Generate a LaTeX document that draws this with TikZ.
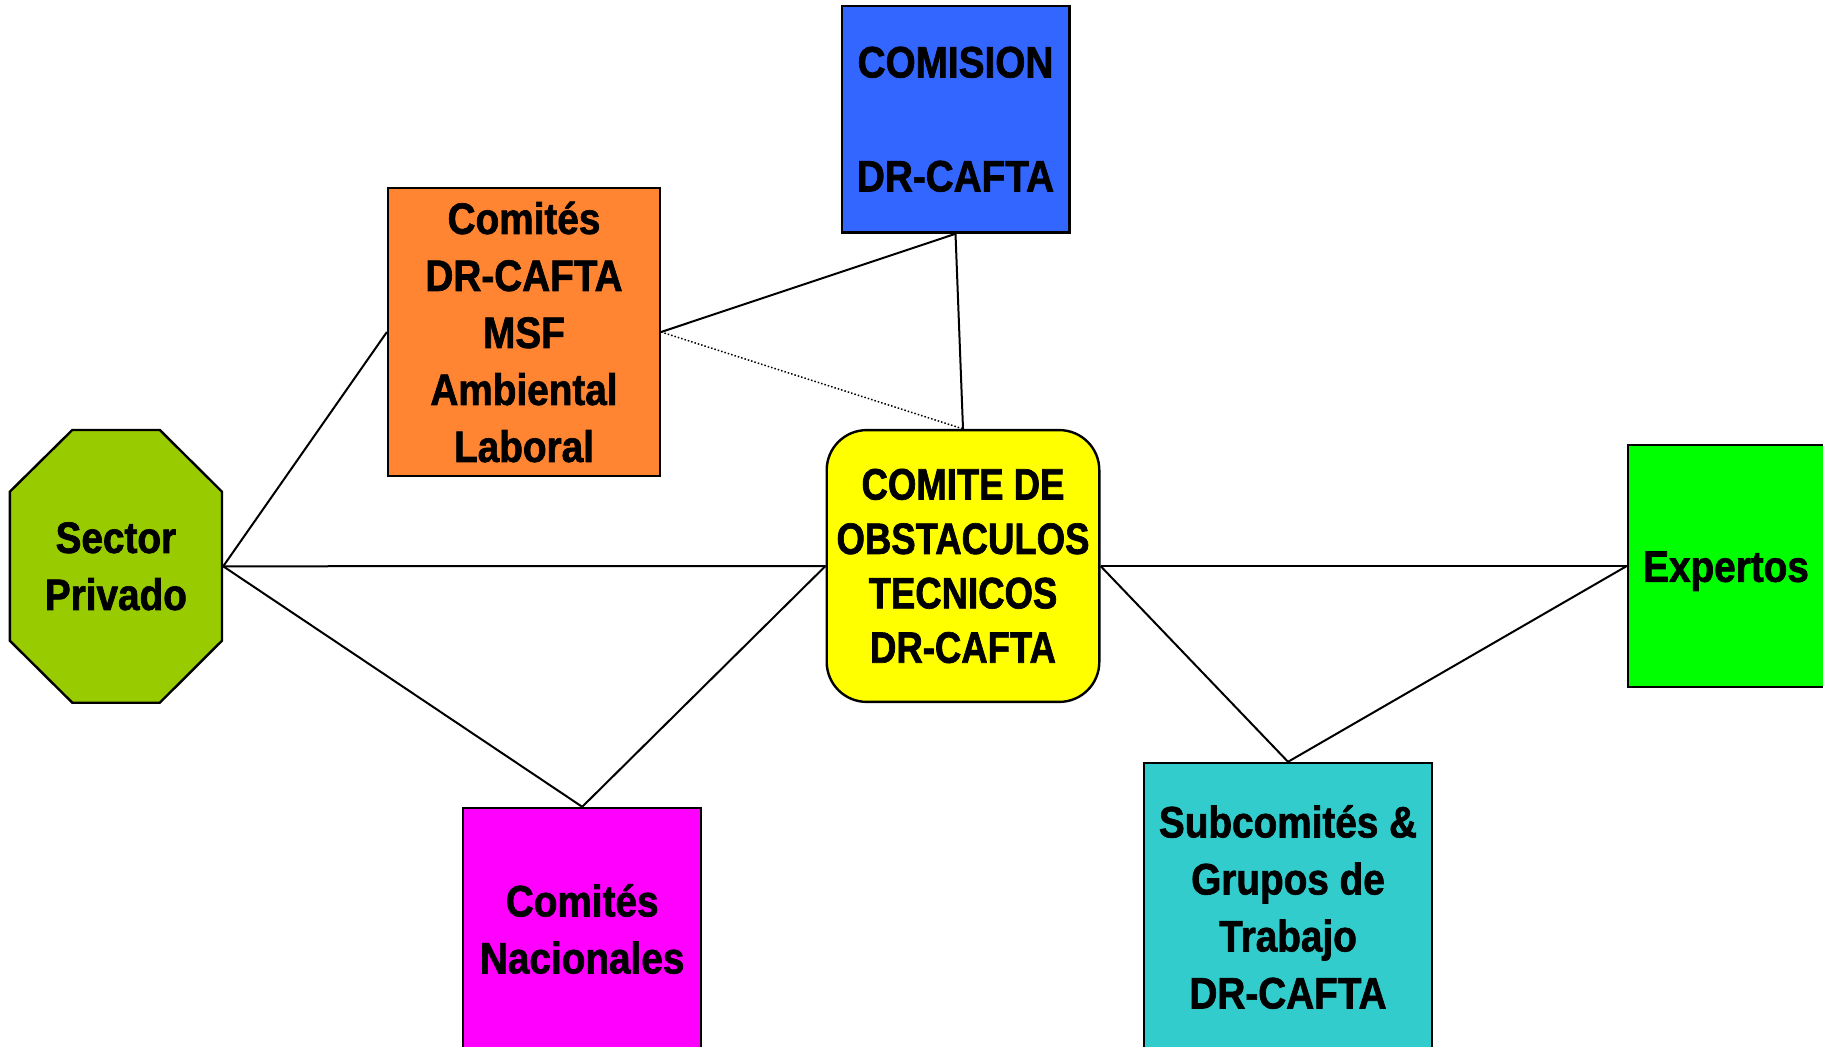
\documentclass[tikz,border=0pt]{standalone}
\usepackage{fontspec}
\newfontfamily\boxfont{Liberation Sans Bold}[FakeStretch=0.88, FakeBold=1.5]
\newfontfamily\narrowfont{Liberation Sans Bold}[FakeStretch=0.83, FakeBold=1.5]
\definecolor{comisionblue}{HTML}{3366FF}
\definecolor{comitesorange}{HTML}{FF8533}
\definecolor{sectorgreen}{HTML}{99CC00}
\definecolor{comiteyellow}{HTML}{FFFF00}
\definecolor{expertosgreen}{HTML}{00FF00}
\definecolor{subcomitesteal}{HTML}{33CCCC}
\definecolor{nacionalesmagenta}{HTML}{FF00FF}

\begin{document}
\begin{tikzpicture}[x=0.5pt, y=-0.5pt]
  \tikzset{box/.style={draw, line width=1.2pt, align=center, inner sep=0pt,
                       font=\boxfont\fontsize{22}{28.5}\selectfont},
           link/.style={line width=1pt}}
  \useasboundingbox (0,0) rectangle (1823,1047);
  \filldraw[fill=sectorgreen, line width=1.2pt]
    (9.8,491.7) -- (72.3,430) -- (159.8,430) -- (222,491.7) -- (222,640.7)
    -- (159.8,702.7) -- (72.3,702.7) -- (9.8,640.7) -- cycle;
  \node[box, draw=none, minimum width=106.1pt, minimum height=136.4pt]
    (sector) at (115.9,566.3) {Sector\\Privado};
  \node[box, fill=comisionblue, minimum width=113.8pt, minimum height=113.3pt]
    (comision) at (955.5,119.3) {COMISION\\\strut\\DR-CAFTA};
  \node[box, fill=comitesorange, minimum width=135.9pt, minimum height=143.7pt]
    (comites) at (524,332) {Comités\\DR-CAFTA\\MSF\\Ambiental\\Laboral};
  \node[box, rounded corners=20pt, fill=comiteyellow, minimum width=136.3pt, minimum height=135.9pt,
        font=\narrowfont\fontsize{22}{27.2}\selectfont]
    (obstaculos) at (963,566) {COMITE DE\\OBSTACULOS\\TECNICOS\\DR-CAFTA};
  \node[box, fill=expertosgreen, minimum width=98pt, minimum height=121pt,
        text height=15.8pt, text depth=0pt]
    (expertos) at (1726,566) {Expertos};
  \node[box, fill=subcomitesteal, minimum width=144pt, minimum height=144pt]
    (subcomites) at (1288,907) {Subcomités \&\\Grupos de\\Trabajo\\DR-CAFTA};
  \node[box, fill=nacionalesmagenta, minimum width=119pt, minimum height=121pt]
    (nacionales) at (582.2,929) {Comités\\Nacionales};
  \draw[link] (sector.east) -- (comites.west);
  \draw[link] (sector.east) -- (obstaculos.west);
  \draw[link] (sector.east) -- (nacionales.north);
  \draw[link] (obstaculos.west) -- (nacionales.north);
  \draw[link] (comites.east) -- (comision.south);
  \draw[link] (comision.south) -- (obstaculos.north);
  \draw[densely dotted, line width=0.75pt] (comites.east) -- (obstaculos.north);
  \draw[link] (obstaculos.east) -- (expertos.west);
  \draw[link] (obstaculos.east) -- (subcomites.north);
  \draw[link] (expertos.west) -- (subcomites.north);
\end{tikzpicture}
\end{document}
